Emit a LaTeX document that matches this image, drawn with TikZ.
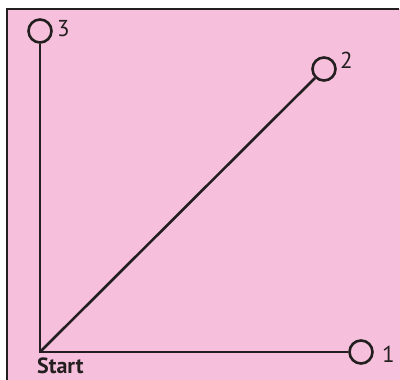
\documentclass[tikz,border=0pt]{standalone}
\usepackage{fontspec}
\setmainfont{PT Sans}
\definecolor{bgpink}{RGB}{246,191,219}
\definecolor{ink}{RGB}{35,31,32}
\begin{document}
\begin{tikzpicture}[x=1pt,y=-1pt,
  pt/.style={circle,draw=ink,line width=2.6pt,minimum size=23pt,inner sep=0pt},
  lab/.style={font=\fontsize{23}{23}\selectfont,text=ink,inner sep=0pt},
  edge/.style={draw=ink,line width=2.6pt}]
\useasboundingbox (0,0) rectangle (400,380);
\fill[bgpink] (7,9) rectangle (400,380);
\draw[ink,line width=2.8pt] (7,381) -- (7,9) -- (399,9);
\coordinate (start) at (40,352);
\node[pt] (n1) at (361,352) {};
\node[pt] (n2) at (324,69) {};
\node[pt] (n3) at (40,31) {};
\draw[edge] (n3) -- (start) -- (n1);
\draw[edge] (start) -- (n2);
\node[lab,anchor=base west] (l1) at (382,362) {1};
\node[lab,anchor=base west] (l2) at (340,68) {2};
\node[lab,anchor=base west] (l3) at (57,36) {3};
\node[lab,anchor=base west,font=\fontsize{22}{22}\selectfont\bfseries] (ls) at (37,373) {Start};
\end{tikzpicture}
\end{document}
